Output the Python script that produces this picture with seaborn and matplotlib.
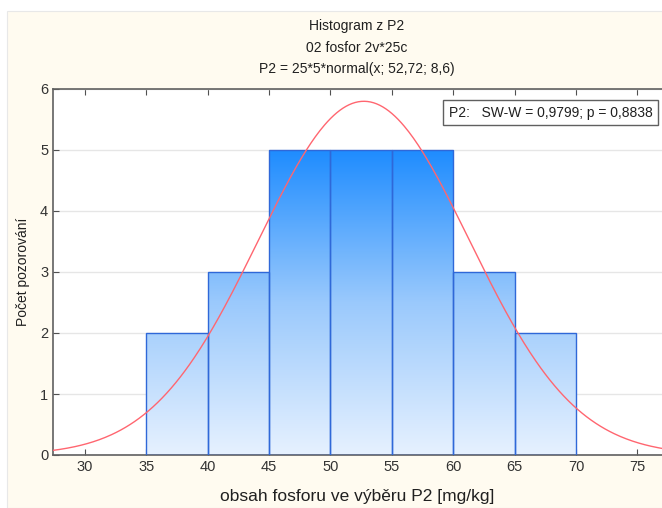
import numpy as np
import pandas as pd
import seaborn as sns
import matplotlib.pyplot as plt
from matplotlib.colors import LinearSegmentedColormap
from matplotlib.patches import Rectangle

# histogram data
bin_edges = [35, 40, 45, 50, 55, 60, 65, 70]
counts = [2, 3, 5, 5, 5, 3, 2]
# fitted normal curve as stated in the title: P2 = 25*5*normal(x; 52,72; 8,6)
n_obs = 25
bin_width = 5
mean = 52.72
sd = 8.6
x_ticks = [30, 35, 40, 45, 50, 55, 60, 65, 70, 75]
y_ticks = [0, 1, 2, 3, 4, 5, 6]

titles = ['Histogram z P2', '02 fosfor 2v*25c', 'P2 = 25*5*normal(x; 52,72; 8,6)']
sw_text = 'P2:   SW-W = 0,9799; p = 0,8838'

sns.set_style('white')
plt.rcParams['font.family'] = ['Liberation Sans', 'DejaVu Sans']

fig = plt.figure(figsize=(6.62, 5.08), dpi=100)
fig.patch.set_facecolor('white')
# cream background panel
fig.add_artist(Rectangle((7 / 662, 0), 1, 1 - 11 / 508, transform=fig.transFigure,
                         facecolor='#fffbf0', edgecolor='#e8e8e8', lw=0.8, zorder=-10))

ax = fig.add_axes([53 / 662, 1 - 455 / 508, (662 - 53) / 662, (455 - 89) / 508])
ax.set_facecolor('white')

centers = [(a + b) / 2 for a, b in zip(bin_edges[:-1], bin_edges[1:])]
df = pd.DataFrame({'x': centers, 'n': counts})
sns.histplot(data=df, x='x', weights='n', bins=bin_edges, ax=ax,
             facecolor='none', edgecolor='#2f68d8', linewidth=1.0, alpha=1, zorder=3)

# vertical gradient fill clipped to each bar
cmap = LinearSegmentedColormap.from_list('bl', ['#e6f1ff', '#9ac9fc', '#1e8cff'])
grad = np.linspace(0, 1, 256).reshape(-1, 1)
for p in ax.patches:
    x0, y0 = p.get_x(), p.get_y()
    w, h = p.get_width(), p.get_height()
    im = ax.imshow(grad[: int(256 * h / 5)], cmap=cmap, vmin=0, vmax=1, origin='lower',
                   extent=[x0, x0 + w, 0, h], aspect='auto', zorder=2)
    im.set_clip_path(p)

xs = np.linspace(27.3, 77.1, 400)
ys = n_obs * bin_width * np.exp(-0.5 * ((xs - mean) / sd) ** 2) / (sd * np.sqrt(2 * np.pi))
ax.plot(xs, ys, color='#ff6670', lw=1.0, zorder=4)

ax.set_xlim(27.4, 77.0)
ax.set_ylim(0, 6)
ax.set_xticks(x_ticks)
ax.set_yticks(y_ticks)
ax.yaxis.grid(True, color='#e6e6e6', lw=1)
ax.set_axisbelow(True)
ax.tick_params(axis='both', direction='in', labelsize=10.5, colors='#505050',
               length=4, top=True, bottom=True, left=True, right=False, labelcolor='#333333')
for s in ax.spines.values():
    s.set_color('#606060')
    s.set_linewidth(1.2)
ax.spines['right'].set_visible(False)
ax.set_xlabel('obsah fosforu ve výběru P2 [mg/kg]', fontsize=12.5, color='#202020', labelpad=11)
ax.set_ylabel('Počet pozorování', fontsize=10, color='#202020', labelpad=7)

for i, t in enumerate(titles):
    fig.text(357 / 662, 1 - (26 + 21.5 * i) / 508, t, ha='center', va='center',
             fontsize=10, color='#202020')

ax.text(0.984, 0.954, sw_text, transform=ax.transAxes, ha='right', va='top',
        fontsize=10, color='#202020', zorder=6,
        bbox=dict(boxstyle='square,pad=0.4', facecolor='white', edgecolor='#606060', lw=1))

fig.savefig('out.png', dpi=100, facecolor=fig.get_facecolor())
